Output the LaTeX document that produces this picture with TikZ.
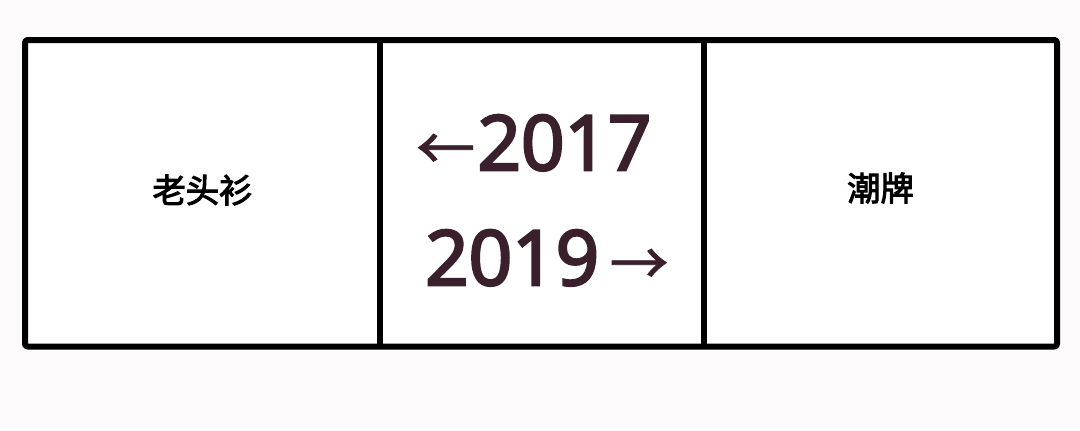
\documentclass[tikz,border=0pt]{standalone}
\usepackage{fontspec}
\newfontfamily\cjk{Noto Sans CJK SC}[FakeBold=3]
\newfontfamily\cjkarrow{Noto Sans CJK SC}[FakeBold=1.5]
\newfontfamily\numfont{Open Sans}[FakeBold=3.5]
\definecolor{maroon}{RGB}{58,32,44}
\definecolor{bgpink}{RGB}{254,251,253}
\begin{document}
\begin{tikzpicture}[x=0.75pt,y=-0.75pt,
  frame/.style={line width=4.5pt,line join=round,rounded corners=2pt},
  divider/.style={line width=4.5pt},
  label/.style={inner sep=0pt,font=\cjk\fontsize{25}{30}\selectfont,text=black},
  year/.style={inner sep=0pt,font=\numfont\fontsize{57}{64}\selectfont,text=maroon}]
\fill[bgpink] (0,0) rectangle (1080,430);
\useasboundingbox (0,0) rectangle (1080,430);
\coordinate (tl) at (25,40);
\coordinate (br) at (1057,346.5);
\coordinate (d1t) at (380,40);
\coordinate (d1b) at (380,346.5);
\coordinate (d2t) at (704,40);
\coordinate (d2b) at (704,346.5);
\fill[white] (tl) rectangle (br);
\draw[divider] (d1t) -- (d1b);
\draw[divider] (d2t) -- (d2b);
\draw[frame] (tl) rectangle (br);
\node[label] (left) at (202.5,190) {老头衫};
\node[label] (right) at (880.5,188) {潮牌};
\node[year,anchor=base west] (y1) at (416,170) {{\cjkarrow\fontsize{44}{50}\selectfont ←}\kern2pt 2017};
\node[year,anchor=base west] (y2) at (425,285) {2019\kern8pt{\cjkarrow\fontsize{44}{50}\selectfont →}};
\end{tikzpicture}
\end{document}
